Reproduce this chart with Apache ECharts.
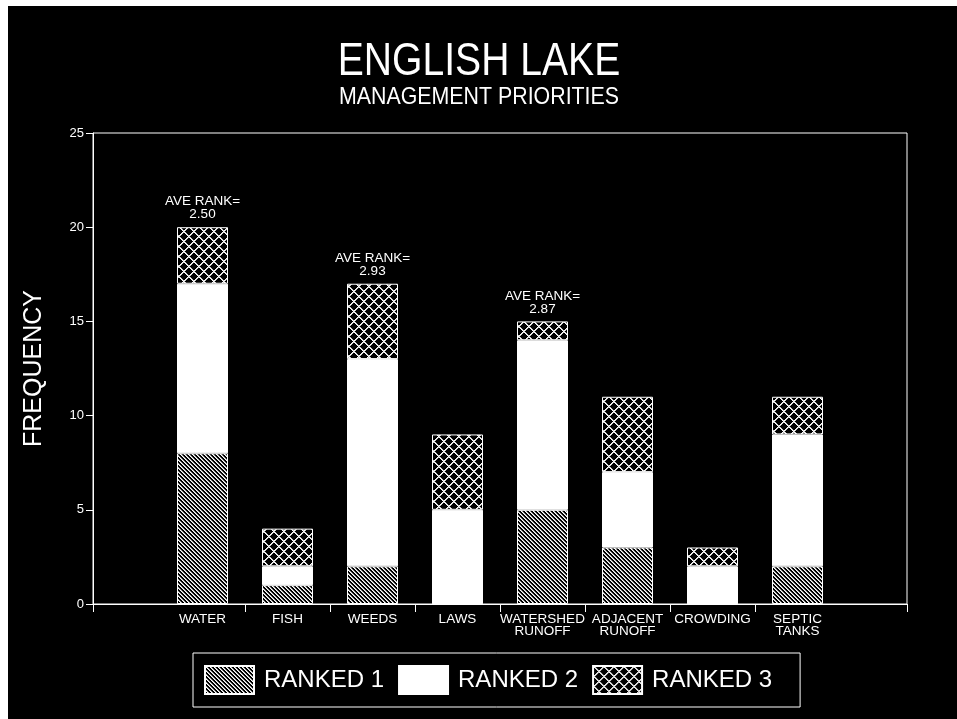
<!DOCTYPE html>
<html>
<head>
    <meta charset="utf-8">
    <title>English Lake</title>
    <script src="https://cdn.jsdelivr.net/npm/echarts@6/dist/echarts.min.js"></script>
    <style>
        body { margin: 0; background: #fff; }
        #main { position: absolute; left: 8px; top: 6px; width: 949px; height: 713px; }
    </style>
</head>
<body>
    <div id="main"></div>
    <script type="text/javascript">
        // data
        var categories = ['WATER', 'FISH', 'WEEDS', 'LAWS', 'WATERSHED\nRUNOFF', 'ADJACENT\nRUNOFF', 'CROWDING', 'SEPTIC\nTANKS'];
        var ranked1 = [8, 1, 2, 0, 5, 3, 0, 2];
        var ranked2 = [9, 1, 11, 5, 9, 4, 2, 7];
        var ranked3 = [3, 2, 4, 4, 1, 4, 1, 2];
        var aveRank = ['2.50', null, '2.93', null, '2.87', null, null, null];
        var seriesNames = ['RANKED 1', 'RANKED 2', 'RANKED 3'];
        var yMin = 0, yMax = 25, yStep = 5;

        // frame axis runs a bit past the bars on both sides (in category units)
        var frameMin = -1.288, frameMax = 8.288;
        var frameTicks = [frameMin, 0.5, 1.5, 2.5, 3.5, 4.5, 5.5, 6.5, frameMax];

        var font = 'Liberation Sans, Arial, sans-serif';

        // little pixel tiles for the hatch fills
        function makeTile(size, fn) {
            var c = document.createElement('canvas');
            c.width = c.height = size;
            var ctx = c.getContext('2d');
            var img = ctx.createImageData(size, size);
            for (var y = 0; y < size; y++) {
                for (var x = 0; x < size; x++) {
                    var v = fn(x, y);
                    var i = (y * size + x) * 4;
                    img.data[i] = img.data[i + 1] = img.data[i + 2] = v;
                    img.data[i + 3] = 255;
                }
            }
            ctx.putImageData(img, 0, 0);
            return c;
        }
        var diagTile = makeTile(4, function (x, y) {
            var d = ((x - y) % 4 + 4) % 4;
            return d === 0 ? 255 : (d === 1 ? 170 : 0);
        });
        var crossTile = makeTile(10, function (x, y) {
            var d1 = ((x - y) % 10 + 10) % 10;
            var d2 = (x + y) % 10;
            return (d1 === 0 || d2 === 0) ? 255 : ((d1 === 1 || d2 === 1) ? 200 : 0);
        });
        var fills = [
            { image: diagTile, repeat: 'repeat' },
            '#ffffff',
            { image: crossTile, repeat: 'repeat' }
        ];

        var myChart = echarts.init(document.getElementById('main'));

        var option = {
            backgroundColor: '#000',
            animation: false,
            // titles are squeezed sideways, like the condensed lettering of the original
            graphic: [{
                type: 'text',
                x: 471,
                y: 33,
                scaleX: 0.85,
                style: { text: 'ENGLISH LAKE', fill: '#fff', font: '46px ' + font, textAlign: 'center', textVerticalAlign: 'top' }
            }, {
                type: 'text',
                x: 471,
                y: 79,
                scaleX: 0.89,
                style: { text: 'MANAGEMENT PRIORITIES', fill: '#fff', font: '24px ' + font, textAlign: 'center', textVerticalAlign: 'top' }
            }],
            legend: {
                data: seriesNames,
                left: 185,
                top: 647,
                orient: 'horizontal',
                padding: [12, 28, 12, 11],
                itemGap: 14,
                itemWidth: 49,
                itemHeight: 28,
                borderColor: '#fff',
                borderWidth: 1,
                icon: 'rect',
                textStyle: { color: '#fff', fontFamily: font, fontSize: 24, padding: [0, 0, 0, 5] }
            },
            grid: [
                { left: 85, right: 50, top: 127, bottom: 115, show: true, borderColor: '#fff', borderWidth: 1, backgroundColor: 'transparent' },
                { left: 152, right: 117, top: 127, bottom: 115 }
            ],
            xAxis: [{
                gridIndex: 0,
                type: 'value',
                min: frameMin,
                max: frameMax,
                axisLine: { show: true, onZero: false, lineStyle: { color: '#fff', width: 1 } },
                axisTick: { show: true, length: 8, customValues: frameTicks, lineStyle: { color: '#fff' } },
                axisLabel: { show: false },
                splitLine: { show: false }
            }, {
                gridIndex: 1,
                type: 'category',
                data: categories,
                axisLine: { show: false },
                axisTick: { show: false },
                axisLabel: {
                    interval: 0,
                    hideOverlap: false,
                    margin: 9,
                    color: '#fff',
                    fontFamily: font,
                    fontSize: 13.5,
                    lineHeight: 12
                }
            }],
            yAxis: [{
                gridIndex: 0,
                type: 'value',
                min: yMin,
                max: yMax,
                interval: yStep,
                name: 'FREQUENCY',
                nameLocation: 'middle',
                nameGap: 46,
                nameTextStyle: { color: '#fff', fontFamily: font, fontSize: 25 },
                axisLine: { show: true, onZero: false, lineStyle: { color: '#fff', width: 1 } },
                axisTick: { show: true, length: 7, lineStyle: { color: '#fff' } },
                axisLabel: { color: '#fff', fontFamily: font, fontSize: 13, margin: 9 },
                splitLine: { show: false }
            }, {
                gridIndex: 1,
                type: 'value',
                min: yMin,
                max: yMax,
                show: false
            }],
            series: [ranked1, ranked2, ranked3].map(function (vals, k) {
                var s = {
                    name: seriesNames[k],
                    type: 'bar',
                    stack: 'rank',
                    xAxisIndex: 1,
                    yAxisIndex: 1,
                    barWidth: 51,
                    data: vals,
                    itemStyle: { color: fills[k], borderColor: '#fff', borderWidth: 1 }
                };
                if (k === 2) {
                    s.label = {
                        show: true,
                        position: 'top',
                        distance: 6,
                        color: '#fff',
                        fontFamily: font,
                        fontSize: 13.5,
                        lineHeight: 13,
                        formatter: function (p) {
                            var a = aveRank[p.dataIndex];
                            return a ? 'AVE RANK=\n' + a : '';
                        }
                    };
                }
                return s;
            })
        };

        myChart.setOption(option);
    </script>
</body>
</html>
